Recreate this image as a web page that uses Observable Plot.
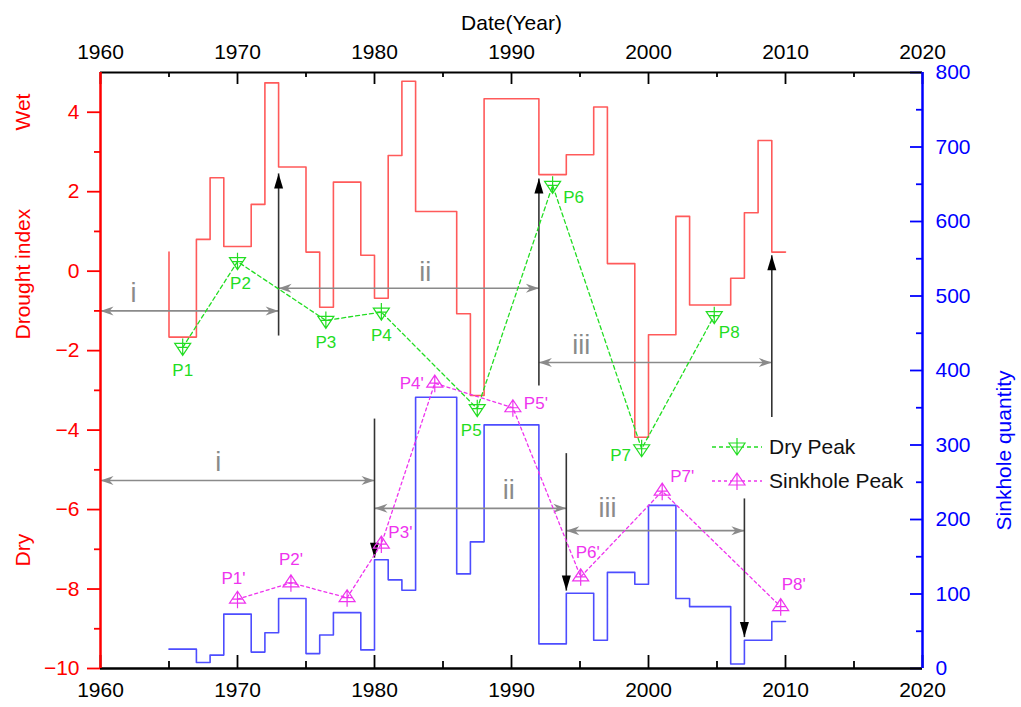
<!DOCTYPE html>
<html><head><meta charset="utf-8">
<script src="https://cdn.jsdelivr.net/npm/d3@7"></script>
<script src="https://cdn.jsdelivr.net/npm/@observablehq/plot@0.6"></script>
<style>
body{margin:0;background:#fff;font-family:"Liberation Sans",Arial,sans-serif;}
#wrap{position:relative;width:1021px;height:707px;}
#legend{position:absolute;left:710px;top:430px;font-size:21px;color:#111;}
#legend .row{display:flex;align-items:center;height:34px;}
#legend svg{margin-right:7px;}
</style></head><body><div id="wrap"></div>
<script>
// ---------------- data ----------------
const years = [1965,1966,1967,1968,1969,1970,1971,1972,1973,1974,1975,1976,1977,1978,1979,1980,1981,1982,1983,1984,1985,1986,1987,1988,1989,1990,1991,1992,1993,1994,1995,1996,1997,1998,1999,2000,2001,2002,2003,2004,2005,2006,2007,2008,2009,2010];
const droughtIndex = [0.48,-1.66,-1.66,0.80,2.35,0.62,0.62,1.68,4.74,2.62,2.62,0.48,-0.91,2.24,2.24,0.40,-0.68,2.91,4.78,1.50,1.50,1.50,-1.07,-3.13,4.34,4.34,4.34,4.34,2.43,2.43,2.93,2.93,4.13,0.19,0.19,-4.18,-1.60,-1.60,1.38,-0.85,-0.85,-0.85,-0.18,1.47,3.29,0.48];
const sinkholeCount = [26,26,26,8,18,73,73,22,48,94,94,20,45,75,75,25,146,119,105,364,364,364,127,170,327,327,327,327,33,33,101,101,38,129,129,113,219,219,94,83,83,83,6,38,38,63];

const dryPeakLabels = ["P1","P2","P3","P4","P5","P6","P7","P8"];
const dryPeakYears  = [1966.0,1970.0,1976.45,1980.5,1987.5,1993.0,1999.5,2004.8];
const dryPeakValues = [-1.92,0.24,-1.24,-1.03,-3.46,2.16,-4.47,-1.12];

const sinkPeakLabels = ["P1'","P2'","","P3'","P4'","P5'","P6'","P7'","P8'"];
const sinkPeakYears  = [1970.0,1973.9,1978.0,1980.5,1984.4,1990.1,1995.05,2001.0,2009.65];
const sinkPeakValues = [93,115,95,167,383,350,123,238,83];

const xTicks = [1960,1970,1980,1990,2000,2010,2020];
const xMinorTicks = [1965,1975,1985,1995,2005,2015];
const leftTicks = [-10,-8,-6,-4,-2,0,2,4];
const leftMinorTicks = [-9,-7,-5,-3,-1,1,3];
const rightTicks = [0,100,200,300,400,500,600,700,800];
const rightMinorTicks = [50,150,250,350,450,550,650,750];

// period spans (years) and their levels on the drought-index axis
const droughtSpans = [
  {label:"i",   from:1960, to:1973, level:-1.00, labelYear:1962.4, labelLevel:-0.56},
  {label:"ii",  from:1973, to:1992, level:-0.43, labelYear:1983.7, labelLevel:-0.02},
  {label:"iii", from:1992, to:2009, level:-2.30, labelYear:1995.1, labelLevel:-1.86}
];
const sinkSpans = [
  {label:"i",   from:1960, to:1980, level:-5.27, labelYear:1968.6, labelLevel:-4.80},
  {label:"ii",  from:1980, to:1994, level:-5.97, labelYear:1989.8, labelLevel:-5.52},
  {label:"iii", from:1994, to:2007, level:-6.53, labelYear:1997.0, labelLevel:-5.98}
];
const upArrows   = [{year:1973, from:-1.62, to:2.46},{year:1992, from:-2.88, to:2.33},{year:2009, from:-3.67, to:0.40}];
const downArrows = [{year:1980, from:-3.71, to:-7.21},{year:1994, from:-4.58, to:-8.04},{year:2007, from:-5.72, to:-9.21}];

// ---------------- build ----------------
const toLeft = s => -10 + s * 15 / 800;
const FW = 822, FH = 596;
const green = "#22dd22", magenta = "#ee33ee", red = "#ff0000", blue = "#0000ff", gray = "#8a8a8a";

const drought = years.map((year,i)=>({year, value: droughtIndex[i]}));
const sink = years.map((year,i)=>({year, value: toLeft(sinkholeCount[i])}));
const dry = dryPeakLabels.map((label,i)=>({label, year: dryPeakYears[i], value: dryPeakValues[i]}));
const sp = sinkPeakLabels.map((label,i)=>({label, year: sinkPeakYears[i], value: toLeft(sinkPeakValues[i])}));

const dryMarker = {draw(c){c.moveTo(-8,-4);c.lineTo(8,-4);c.lineTo(0,8);c.closePath();c.moveTo(0,-9);c.lineTo(0,8);c.moveTo(-5.3,0);c.lineTo(5.3,0);}};
const sinkMarker = {draw(c){c.moveTo(-8,4);c.lineTo(8,4);c.lineTo(0,-8);c.closePath();c.moveTo(0,-8);c.lineTo(0,9);c.moveTo(-5.3,0);c.lineTo(5.3,0);}};
const upHead = {draw(c){c.moveTo(0,0);c.lineTo(4.5,15);c.lineTo(-4.5,15);c.closePath();}};
const downHead = {draw(c){c.moveTo(0,0);c.lineTo(4.5,-15);c.lineTo(-4.5,-15);c.closePath();}};
const leftHead = {draw(c){c.moveTo(0,0);c.lineTo(13,-4.5);c.lineTo(9,0);c.lineTo(13,4.5);c.closePath();}};
const rightHead = {draw(c){c.moveTo(0,0);c.lineTo(-13,-4.5);c.lineTo(-9,0);c.lineTo(-13,4.5);c.closePath();}};

const dryOffsets = {P1:[0,23],P2:[3,22],P3:[0,22],P4:[0,23],P5:[-6,22],P6:[21,12],P7:[-21,7],P8:[15,17]};
const sinkOffsets = {"P1'":[-4,-21],"P2'":[0,-23],"P3'":[19,-12],"P4'":[-23,0],"P5'":[23,-4],"P6'":[7,-24],"P7'":[20,-15],"P8'":[13,-22]};

function spanMarks(spans){
  return [
    Plot.link(spans, {x1:"from", x2:"to", y1:"level", y2:"level", stroke:gray, strokeWidth:1.6}),
    Plot.dot(spans, {x:"from", y:"level", symbol:leftHead, fill:gray, stroke:"none"}),
    Plot.dot(spans, {x:"to", y:"level", symbol:rightHead, fill:gray, stroke:"none"}),
    Plot.text(spans, {x:"labelYear", y:"labelLevel", text:"label", fontSize:27, fill:gray})
  ];
}

const chart = Plot.plot({
  width:1021, height:707,
  marginLeft:100, marginRight:99, marginTop:72, marginBottom:39,
  x:{domain:[1960,2020]},
  y:{domain:[-10,5]},
  style:{fontFamily:"'Liberation Sans', Arial, sans-serif", background:"white", overflow:"visible"},
  marks:[
    // step series
    Plot.line(drought, {x:"year", y:"value", curve:"step-before", stroke:"#ff5a5a", strokeWidth:1.6}),
    Plot.line(sink, {x:"year", y:"value", curve:"step-before", stroke:"#4d4dff", strokeWidth:1.6}),
    // period annotations
    ...spanMarks(droughtSpans),
    ...spanMarks(sinkSpans),
    Plot.link(upArrows, {x1:"year", x2:"year", y1:"from", y2:"to", stroke:"#333", strokeWidth:1.6}),
    Plot.dot(upArrows, {x:"year", y:"to", symbol:upHead, fill:"#000", stroke:"none"}),
    Plot.link(downArrows, {x1:"year", x2:"year", y1:"from", y2:"to", stroke:"#333", strokeWidth:1.6}),
    Plot.dot(downArrows, {x:"year", y:"to", symbol:downHead, fill:"#000", stroke:"none"}),
    // peaks
    Plot.line(dry, {x:"year", y:"value", stroke:green, strokeWidth:1.3, strokeDasharray:"4,3"}),
    Plot.dot(dry, {x:"year", y:"value", symbol:dryMarker, fill:"none", stroke:green, strokeWidth:1.2}),
    ...dry.map(d => Plot.text([d], {x:"year", y:"value", text:"label", fill:green, fontSize:17, dx:dryOffsets[d.label][0], dy:dryOffsets[d.label][1]})),
    Plot.line(sp, {x:"year", y:"value", stroke:magenta, strokeWidth:1.3, strokeDasharray:"3,3"}),
    Plot.dot(sp, {x:"year", y:"value", symbol:sinkMarker, fill:"none", stroke:magenta, strokeWidth:1.2}),
    ...sp.filter(d=>d.label).map(d => Plot.text([d], {x:"year", y:"value", text:"label", fill:magenta, fontSize:17, dx:sinkOffsets[d.label][0], dy:sinkOffsets[d.label][1]})),
    // ticks (inward)
    Plot.tickX(xTicks, {x:d=>d, insetTop:FH-13, stroke:"#000", strokeWidth:1.8}),
    Plot.tickX(xMinorTicks, {x:d=>d, insetTop:FH-7, stroke:"#000", strokeWidth:1.8}),
    Plot.tickX(xTicks, {x:d=>d, insetBottom:FH-12, stroke:"#000", strokeWidth:1.8}),
    Plot.tickX(xMinorTicks, {x:d=>d, insetBottom:FH-5, stroke:"#000", strokeWidth:1.8}),
    Plot.tickY(rightTicks.map(toLeft), {y:d=>d, insetLeft:FW-12, stroke:blue, strokeWidth:1.8}),
    Plot.tickY(rightMinorTicks.map(toLeft), {y:d=>d, insetLeft:FW-6, stroke:blue, strokeWidth:1.8}),
    // axes
    Plot.axisX({anchor:"bottom", ticks:xTicks, tickSize:0, tickPadding:14, fontSize:21, color:"#000", label:null, tickFormat:d=>String(d)}),
    Plot.axisX({anchor:"top", ticks:xTicks, tickSize:0, tickPadding:14, fontSize:21, color:"#000", label:null, tickFormat:d=>String(d)}),
    Plot.axisY({anchor:"left", ticks:leftTicks, tickSize:13, tickPadding:8, fontSize:21, color:red, strokeWidth:1.8, label:null}),
    Plot.axisY({anchor:"left", ticks:leftMinorTicks, tickSize:6, tickFormat:()=>"", color:red, strokeWidth:1.8, label:null}),
    Plot.axisY({anchor:"right", ticks:rightTicks.map(toLeft), tickSize:0, tickPadding:13, fontSize:21, color:blue, label:null, tickFormat:d=>String(Math.round((d+10)*800/15))}),
    // frame lines
    Plot.ruleY([-10], {stroke:"#000", strokeWidth:2.5}),
    Plot.ruleY([5], {stroke:"#000", strokeWidth:2.2}),
    Plot.ruleX([1960], {stroke:red, strokeWidth:2.5}),
    Plot.ruleX([2020], {stroke:blue, strokeWidth:2.5}),
    // titles
    Plot.text(["Date(Year)"], {text:d=>d, frameAnchor:"top", dy:-57, fontSize:21, fill:"#000"}),
    Plot.text(["Wet"], {text:d=>d, frameAnchor:"left", dx:-77, dy:-240, rotate:-90, fontSize:21, fill:red}),
    Plot.text(["Drought index"], {text:d=>d, frameAnchor:"left", dx:-77, dy:-31, rotate:-90, fontSize:21, fill:red}),
    Plot.text(["Dry"], {text:d=>d, frameAnchor:"left", dx:-77, dy:196, rotate:-90, fontSize:21, fill:red}),
    Plot.text(["Sinkhole quantity"], {text:d=>d, frameAnchor:"right", dx:82, dy:0, rotate:-90, fontSize:21, fill:blue})
  ]
});
const wrap = document.getElementById("wrap");
wrap.appendChild(chart);

// legend
function symPath(sym){ const p = d3.path(); sym.draw(p); return p.toString(); }
const legendItems = [
  {name:"Dry Peak", color:green, dash:"4,3", sym:dryMarker},
  {name:"Sinkhole Peak", color:magenta, dash:"3,3", sym:sinkMarker}
];
const leg = document.createElement("div");
leg.id = "legend";
leg.innerHTML = legendItems.map(it => `<div class="row"><svg width="52" height="24" style="overflow:visible"><line x1="2" y1="12" x2="52" y2="12" stroke="${it.color}" stroke-width="1.3" stroke-dasharray="${it.dash}"/><path transform="translate(27,12)" d="${symPath(it.sym)}" fill="white" stroke="${it.color}" stroke-width="1.2"/></svg><span>${it.name}</span></div>`).join("");
wrap.appendChild(leg);
</script></body></html>
